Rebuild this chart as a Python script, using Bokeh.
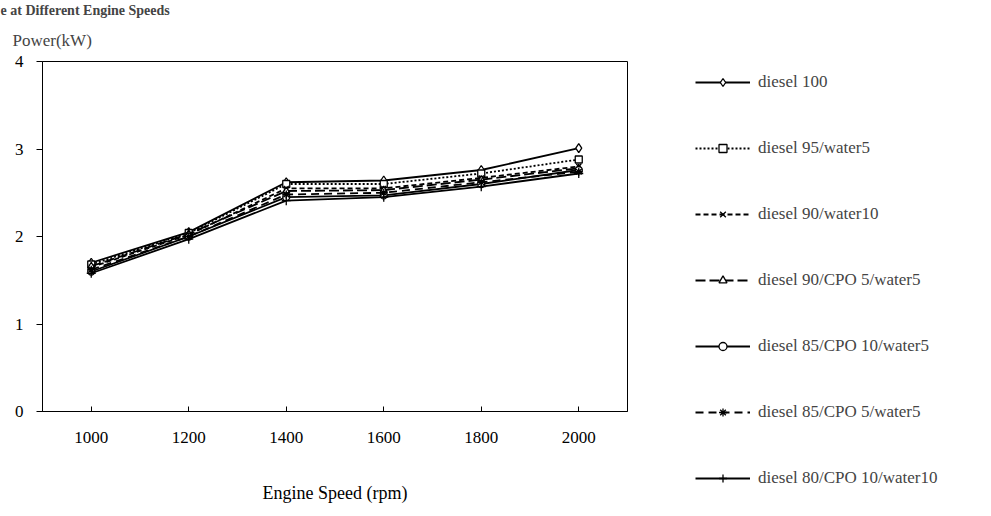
from bokeh.plotting import figure
from bokeh.models import Legend, LegendItem, Title, FixedTicker
from bokeh.embed import file_html
from bokeh.resources import INLINE

speeds = [1000, 1200, 1400, 1600, 1800, 2000]

diesel_100 = [1.70, 2.05, 2.62, 2.64, 2.76, 3.01]
diesel_95_water5 = [1.68, 2.04, 2.60, 2.60, 2.72, 2.88]
diesel_90_water10 = [1.65, 2.02, 2.55, 2.55, 2.67, 2.80]
diesel_90_cpo5_water5 = [1.66, 2.03, 2.52, 2.53, 2.65, 2.78]
diesel_85_cpo10_water5 = [1.60, 2.00, 2.45, 2.47, 2.60, 2.76]
diesel_85_cpo5_water5 = [1.62, 2.00, 2.48, 2.50, 2.62, 2.74]
diesel_80_cpo10_water10 = [1.58, 1.97, 2.41, 2.45, 2.57, 2.72]

series_names = [
    "diesel 100",
    "diesel 95/water5",
    "diesel 90/water10",
    "diesel 90/CPO 5/water5",
    "diesel 85/CPO 10/water5",
    "diesel 85/CPO 5/water5",
    "diesel 80/CPO 10/water10",
]
series_values = [
    diesel_100, diesel_95_water5, diesel_90_water10, diesel_90_cpo5_water5,
    diesel_85_cpo10_water5, diesel_85_cpo5_water5, diesel_80_cpo10_water10,
]
x_ticks = [1000, 1200, 1400, 1600, 1800, 2000]
y_ticks = [0, 1, 2, 3, 4]

styles = [
    ("solid", "diamond", 9),
    ("2 2", "square", 7),
    ("5 3", "x", 7),
    ("10 4", "triangle", 7),
    ("solid", "circle", 7),
    ("8 5", "asterisk", 8),
    ("solid", "cross", 9),
]

FONT = "Liberation Serif"

p = figure(width=991, height=516, frame_width=585, frame_height=350,
           x_range=(900, 2100), y_range=(0, 4),
           output_backend="svg", toolbar_location=None,
           min_border_left=42, min_border_top=61, min_border_bottom=105,
           min_border_right=0)
p.outline_line_color = "black"
p.outline_line_width = 1
p.xgrid.visible = False
p.ygrid.visible = False
p.background_fill_color = "white"
p.border_fill_color = "white"

items = []
for name, vals, (dash, marker, size) in zip(series_names, series_values, styles):
    r1 = p.line(speeds, vals, line_color="black", line_width=1.8, line_dash=dash)
    r2 = p.scatter(speeds, vals, marker=marker, size=size, line_color="black",
                   fill_color="white", line_width=1.3)
    items.append(LegendItem(label=name, renderers=[r1, r2]))

legend = Legend(items=items, location=(68, -77))
legend.glyph_width = 55
legend.glyph_height = 20
legend.label_height = 20
legend.spacing = 46
legend.padding = 0
legend.margin = 0
legend.border_line_color = None
legend.background_fill_alpha = 0
legend.label_text_font = FONT
legend.label_text_font_size = "17px"
legend.label_standoff = 8
p.add_layout(legend, "right")

p.xaxis.ticker = FixedTicker(ticks=x_ticks)
p.yaxis.ticker = FixedTicker(ticks=y_ticks)
for ax in (p.xaxis, p.yaxis):
    ax.major_label_text_font = FONT
    ax.major_label_text_font_size = "17px"
    ax.major_label_text_color = "black"
    ax.axis_line_color = "black"
    ax.major_tick_line_color = "black"
    ax.minor_tick_line_color = None
p.xaxis.major_tick_in = 5
p.xaxis.major_tick_out = 0
p.xaxis.major_label_standoff = 20
p.xaxis.axis_label = "Engine Speed (rpm)"
p.xaxis.axis_label_text_font = FONT
p.xaxis.axis_label_text_font_size = "18px"
p.xaxis.axis_label_text_font_style = "normal"
p.xaxis.axis_label_text_color = "black"
p.xaxis.axis_label_standoff = 37
p.yaxis.major_tick_in = 0
p.yaxis.major_tick_out = 6
p.yaxis.major_label_standoff = 13

p.add_layout(Title(text="Power(kW)", align="left", offset=-30,
                   text_font=FONT, text_font_size="17px",
                   text_font_style="normal", standoff=23), "above")
p.add_layout(Title(text="e at Different Engine Speeds", align="left", offset=-42,
                   text_font=FONT, text_font_size="14px",
                   text_font_style="bold", standoff=0), "above")

open("out.html", "w").write(file_html(p, INLINE))
